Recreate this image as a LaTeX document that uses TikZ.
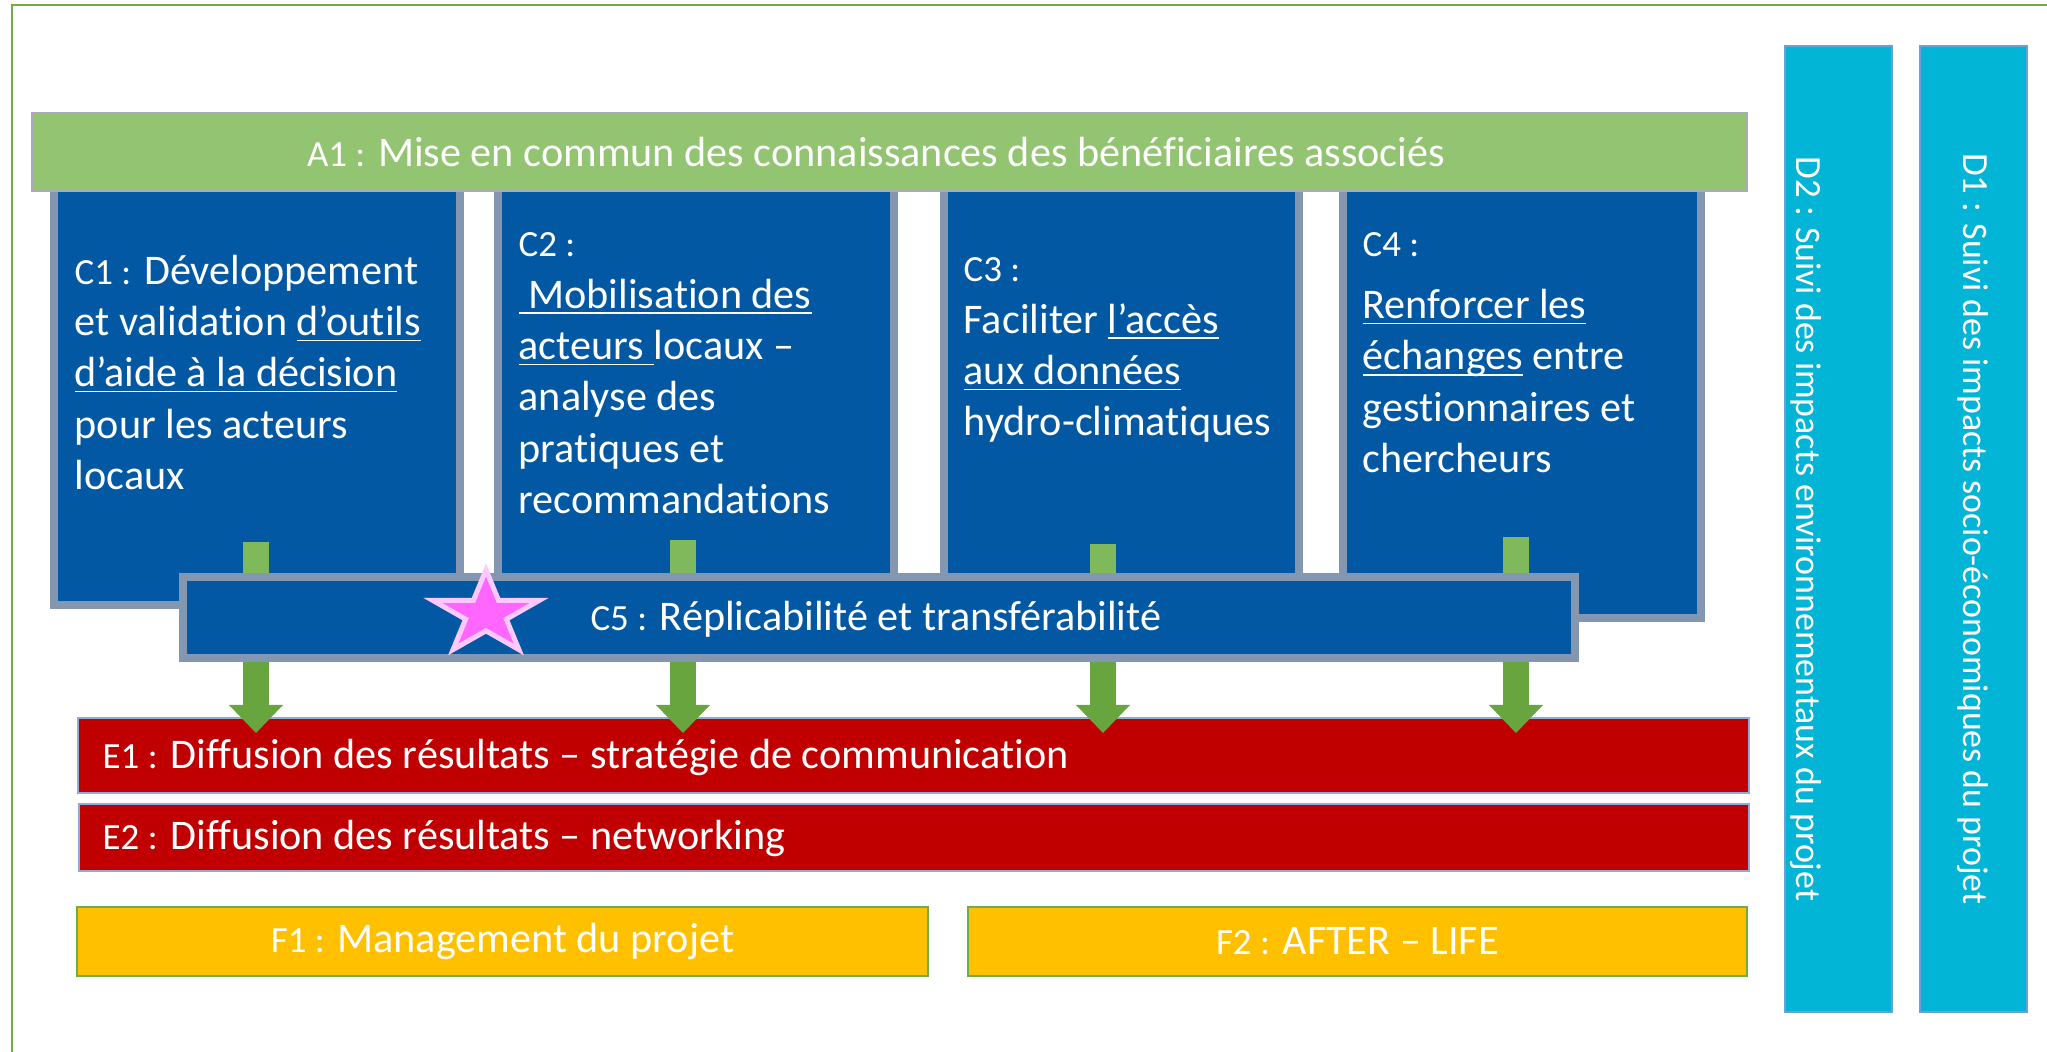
\documentclass[tikz,border=0pt]{standalone}
\usepackage{fontspec}
\setmainfont{Carlito}[Ligatures={NoCommon}]
\usepackage{tikz}
\usetikzlibrary{arrows.meta, positioning, fit}
\definecolor{framegreen}{RGB}{112,173,71}
\definecolor{a1green}{RGB}{146,196,114}
\definecolor{a1line}{RGB}{170,170,185}
\definecolor{cblue}{RGB}{2,88,163}
\definecolor{cline}{RGB}{132,151,176}
\definecolor{arrowgreen}{RGB}{104,165,62}
\definecolor{arrowlight}{RGB}{128,184,92}
\definecolor{ered}{RGB}{192,0,0}
\definecolor{eline}{RGB}{143,170,220}
\definecolor{fyellow}{RGB}{255,192,0}
\definecolor{dcyan}{RGB}{2,180,214}
\definecolor{dline}{RGB}{110,160,215}
\definecolor{starpink}{RGB}{255,102,255}
\definecolor{starrim}{RGB}{255,200,255}
\newcommand{\pfx}[1]{{\fontsize{10.5}{12}\selectfont #1}}
\newcommand{\undl}[1]{\underline{\smash{#1}}}

\begin{document}
\begin{tikzpicture}[
    x=0.01cm, y=-0.01cm,
    box/.style={inner sep=0pt, outer sep=0pt},
    a1box/.style={box, draw=a1line, line width=0.2mm, fill=a1green},
    cbox/.style={box, draw=cline, line width=0.8mm, fill=cblue},
    ebox/.style={box, draw=eline, line width=0.2mm, fill=ered},
    fbox/.style={box, draw=framegreen, line width=0.2mm, fill=fyellow},
    dbox/.style={box, draw=dline, line width=0.2mm, fill=dcyan},
    label/.style={text=white, inner sep=0pt, font=\fontsize{12}{14.6}\selectfont},
    dtext/.style={label, rotate=-90, font=\fontsize{10.2}{12}\selectfont},
    ctext/.style={label, align=left, anchor=north west},
    bigarrow/.style={-{Triangle[width=5.4mm, length=2.8mm, line width=0pt]}, line width=2.6mm, arrowgreen}
]
    \useasboundingbox (0,0) rectangle (2047,1052);
    % outer frame
    \draw[framegreen, line width=0.2mm] (12,5) rectangle (2080,1080);

    % D columns
    \node[dbox, fit={(1785,46) (1892,1012)}] (d2) {};
    \node[dbox, fit={(1920,46) (2027,1012)}] (d1) {};
    \node[dtext] (d2t) at (1806,529) {\pfx{D2 :} Suivi des impacts environnementaux du projet};
    \node[dtext] (d1t) at (1973,529) {\pfx{D1 :} Suivi des impacts socio-économiques du projet};

    % E and F rows
    \node[ebox, fit={(78,718) (1749,793)}] (e1) {};
    \node[ebox, fit={(79,804) (1749,871)}] (e2) {};
    \node[label, anchor=west] (e1t) at (102,757) {\pfx{E1 :} Diffusion des résultats – stratégie de communication};
    \node[label, anchor=west] (e2t) at (102,838) {\pfx{E2 :} Diffusion des résultats – networking};
    \node[fbox, fit={(77,907) (928,976)}] (f1) {};
    \node[fbox, fit={(968,907) (1747,976)}] (f2) {};
    \node[label] (f1t) at (f1) {\pfx{F1 :} Management du projet};
    \node[label] (f2t) at (f2) {\pfx{F2 :} AFTER – LIFE};

    % C boxes
    \node[cbox, fit={(54,180) (460,605)}] (c1) {};
    \node[cbox, fit={(498,180) (894,605)}] (c2) {};
    \node[cbox, fit={(944,180) (1299,605)}] (c3) {};
    \node[cbox, fit={(1343,180) (1701,618)}] (c4) {};
    \node[ctext] (c1t) at (74,254) {\pfx{C1 :} Développement\\et validation \undl{d’outils}\\\undl{d’aide à la décision}\\pour les acteurs\\locaux};
    \node[ctext] (c2t) at (518,232) {\pfx{C2 :}\\\undl{~Mobilisation des}\\\undl{acteurs~}locaux –\\analyse des\\pratiques et\\recommandations};
    \node[ctext] (c3t) at (963,257) {\pfx{C3 :}\\Faciliter \undl{l’accès}\\\undl{aux données}\\hydro-climatiques};
    \node[ctext] (c4t) at (1362,232) {\pfx{C4 :}\\[3pt]\undl{Renforcer les}\\\undl{échanges} entre\\gestionnaires et\\chercheurs};

    % arrows down to E1
    \coordinate (c1a) at (256,542);
    \coordinate (c2a) at (683,540);
    \coordinate (c3a) at (1103,544);
    \coordinate (c4a) at (1516,537);
    \foreach \c in {c1a,c2a,c3a,c4a}
        \draw[bigarrow] (\c) -- ([yshift=-1.5mm]\c |- e1.north);
    \foreach \c in {c1a,c2a,c3a,c4a}
        \draw[arrowlight, line width=2.6mm] (\c) -- ([yshift=-4mm]\c);

    % C5 across
    \node[cbox, fit={(183,577) (1575,658)}] (c5) {};
    \node[label] (c5t) at (876,619) {\pfx{C5 :} Réplicabilité et transférabilité};
    \begin{scope}[shift={(486,614)}, xscale=56, yscale=-44]
        \draw[starrim, fill=starpink, line width=0.5mm, line join=miter]
            (90:1) -- (126:0.382) -- (162:1) -- (198:0.382) -- (234:1) -- (270:0.382)
            -- (306:1) -- (342:0.382) -- (18:1) -- (54:0.382) -- cycle;
    \end{scope}

    % A1 on top
    \node[a1box, fit={(32,113) (1747,191)}] (a1) {};
    \node[label] (a1t) at (876,152) {\pfx{A1 :} Mise en commun des connaissances des bénéficiaires associés};
\end{tikzpicture}
\end{document}
